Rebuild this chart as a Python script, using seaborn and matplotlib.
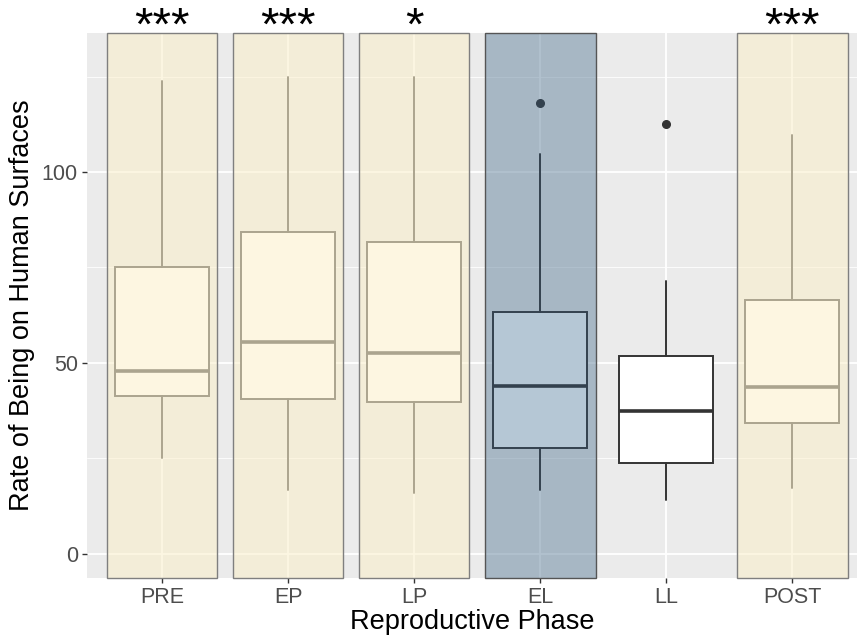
import matplotlib
matplotlib.use("Agg")
import matplotlib.pyplot as plt
from matplotlib.patches import Rectangle
from matplotlib.ticker import MultipleLocator
from matplotlib import transforms
import seaborn as sns

# Reproductive phases and their five-number summaries
phases = ["PRE", "EP", "LP", "EL", "LL", "POST"]
whisker_low = [25.0, 16.7, 16.0, 16.8, 14.0, 17.2]
q1 = [41.3, 40.6, 39.8, 27.7, 23.7, 34.2]
median = [47.9, 55.4, 52.7, 44.0, 37.4, 43.8]
q3 = [75.1, 84.2, 81.8, 63.4, 51.7, 66.5]
whisker_high = [123.8, 124.9, 125.0, 104.8, 71.5, 109.7]
outliers = [[], [], [], [118.2], [112.5], []]

# Significance marks and shaded phases
signif = ["***", "***", "*", "", "", "***"]
highlight = ["sig", "sig", "sig", "low", "none", "sig"]

sns.set_theme(style="darkgrid", rc={
    "axes.facecolor": "#EBEBEB",
    "grid.color": "white",
    "axes.edgecolor": "none",
})
plt.rcParams["font.family"] = ["Liberation Sans", "DejaVu Sans"]

fig = plt.figure(figsize=(8.57, 6.39), dpi=100)
ax = fig.add_axes([87 / 857, 61 / 639, (857 - 87) / 857, (578 - 33) / 639])

ax.set_xlim(-0.595, 5.515)
ax.set_ylim(-6.3, 136.4)
ax.yaxis.set_major_locator(MultipleLocator(50))
ax.yaxis.set_minor_locator(MultipleLocator(25))
ax.grid(True, which="major", color="white", linewidth=1.3)
ax.grid(True, which="minor", color="white", linewidth=0.6)

rect_fill = {"sig": ("#FBEFC7", "#7F7F7F"), "low": ("#65859F", "#555555")}
box_style = {
    "sig": ("#FDF6E1", "#ABA48E"),
    "low": ("#B5C7D5", "#33414E"),
    "none": ("#FFFFFF", "#333333"),
}

# Shaded background bands for each highlighted phase
for i, kind in enumerate(highlight):
    if kind in rect_fill:
        fc, ec = rect_fill[kind]
        ax.add_patch(Rectangle((i - 0.44, -6.3), 0.88, 142.7,
                               facecolor=fc, alpha=0.5, edgecolor="none",
                               zorder=1.5))
        ax.add_patch(Rectangle((i - 0.44, -6.3), 0.88, 142.7,
                               facecolor="none", edgecolor=ec,
                               linewidth=1.0, zorder=1.6, clip_on=False))

# Boxplots drawn from the summary statistics
for i, p in enumerate(phases):
    fc, ec = box_style[highlight[i]]
    stats = [{
        "label": p, "whislo": whisker_low[i], "q1": q1[i], "med": median[i],
        "q3": q3[i], "whishi": whisker_high[i], "fliers": outliers[i],
    }]
    ax.bxp(stats, positions=[i], widths=0.75, patch_artist=True,
           showcaps=False, manage_ticks=False, zorder=3,
           boxprops=dict(facecolor=fc, edgecolor=ec, linewidth=1.4),
           whiskerprops=dict(color=ec, linewidth=1.4),
           medianprops=dict(color=ec, linewidth=2.6),
           flierprops=dict(marker="o", markersize=5.5, markerfacecolor=ec,
                           markeredgecolor=ec))

ax.set_xticks(range(len(phases)))
ax.set_xticklabels(phases)
ax.set_yticks([0, 50, 100])
ax.tick_params(axis="both", which="major", labelsize=15.5, labelcolor="#4D4D4D",
               length=3.5, width=1.0, color="#333333", pad=3, left=True,
               bottom=True)
ax.tick_params(axis="both", which="minor", length=0)

ax.set_xlabel("Reproductive Phase", fontsize=19.5, color="black", labelpad=1)
ax.set_ylabel("Rate of Being on Human Surfaces", fontsize=19.5, color="black",
              labelpad=5)

# Significance stars above the panel
star_tf = transforms.offset_copy(ax.get_xaxis_transform(), fig=fig,
                                 y=-4.5, units="points")
for i, s in enumerate(signif):
    if s:
        ax.text(i, 1.0, s, transform=star_tf,
                ha="center", va="baseline", fontsize=34,
                color="black", clip_on=False)

fig.savefig("out.png", dpi=100)
